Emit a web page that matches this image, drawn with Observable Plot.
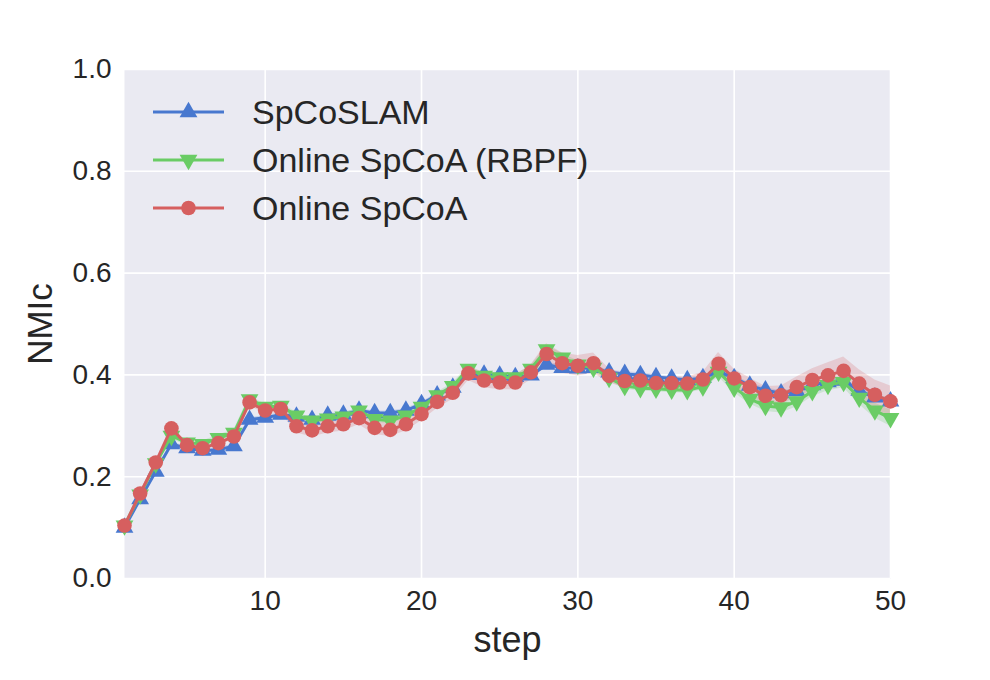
<!DOCTYPE html>
<html><head><meta charset="utf-8">
<script src="https://cdn.jsdelivr.net/npm/d3@7"></script>
<script src="https://cdn.jsdelivr.net/npm/@observablehq/plot@0.6"></script>
<style>
body{margin:0;background:#fff;}
#chart{position:relative;width:990px;height:680px;}
</style>
</head><body><div id="chart"></div>
<script>
const steps = [1,2,3,4,5,6,7,8,9,10,11,12,13,14,15,16,17,18,19,20,21,22,23,24,25,26,27,28,29,30,31,32,33,34,35,36,37,38,39,40,41,42,43,44,45,46,47,48,49,50];

const spcoslam = [0.100,0.156,0.210,0.264,0.256,0.251,0.253,0.260,0.312,0.316,0.322,0.318,0.312,0.320,0.322,0.330,0.325,0.325,0.330,0.343,0.360,0.375,0.400,0.401,0.399,0.396,0.399,0.420,0.414,0.413,0.414,0.405,0.402,0.400,0.396,0.393,0.390,0.394,0.407,0.394,0.379,0.370,0.364,0.368,0.380,0.386,0.389,0.369,0.356,0.348];
const spcoslamSpread = [0.004,0.004,0.004,0.004,0.004,0.004,0.004,0.004,0.004,0.004,0.004,0.004,0.004,0.004,0.004,0.004,0.004,0.004,0.004,0.004,0.004,0.004,0.004,0.004,0.004,0.004,0.004,0.005,0.005,0.005,0.005,0.004,0.004,0.004,0.004,0.004,0.004,0.004,0.005,0.005,0.005,0.005,0.005,0.005,0.005,0.005,0.005,0.006,0.006,0.006];

const rbpf = [0.104,0.165,0.226,0.280,0.267,0.264,0.276,0.286,0.352,0.337,0.339,0.320,0.310,0.314,0.318,0.330,0.313,0.310,0.320,0.337,0.360,0.378,0.412,0.398,0.395,0.395,0.412,0.450,0.434,0.420,0.414,0.394,0.378,0.374,0.373,0.371,0.370,0.377,0.406,0.375,0.353,0.339,0.336,0.348,0.368,0.380,0.386,0.355,0.330,0.315];
const rbpfSpread = [0.005,0.005,0.005,0.006,0.006,0.006,0.006,0.006,0.006,0.006,0.006,0.006,0.006,0.006,0.006,0.006,0.006,0.006,0.006,0.006,0.006,0.006,0.006,0.006,0.006,0.006,0.006,0.008,0.008,0.008,0.008,0.006,0.006,0.006,0.006,0.006,0.006,0.006,0.010,0.010,0.010,0.011,0.011,0.011,0.011,0.011,0.011,0.013,0.015,0.016];

const onlineSpCoA = [0.104,0.167,0.228,0.295,0.262,0.256,0.266,0.279,0.346,0.330,0.333,0.299,0.291,0.299,0.303,0.315,0.296,0.292,0.303,0.323,0.347,0.365,0.403,0.389,0.385,0.385,0.405,0.441,0.423,0.418,0.423,0.398,0.388,0.389,0.384,0.384,0.383,0.391,0.422,0.393,0.376,0.359,0.360,0.376,0.390,0.399,0.408,0.383,0.361,0.348];
const onlineSpread = [0.004,0.004,0.004,0.005,0.005,0.005,0.005,0.005,0.007,0.007,0.007,0.013,0.013,0.013,0.013,0.013,0.013,0.013,0.013,0.013,0.013,0.013,0.014,0.014,0.014,0.014,0.015,0.020,0.020,0.020,0.020,0.014,0.013,0.013,0.013,0.013,0.013,0.014,0.022,0.018,0.018,0.018,0.018,0.020,0.022,0.025,0.027,0.027,0.029,0.030];

const seriesNames = ["SpCoSLAM", "Online SpCoA (RBPF)", "Online SpCoA"];
const seriesColors = ["#4878CF", "#6ACC65", "#D65F5F"];
const seriesSymbols = ["triangle", "triangle", "circle"];
const seriesRotate = [0, 180, 0];
const xTicks = [10, 20, 30, 40, 50];
const yTicks = [0.0, 0.2, 0.4, 0.6, 0.8, 1.0];
const xLabel = "step";
const yLabel = "NMIc";

const seriesValues = [spcoslam, rbpf, onlineSpCoA];
const seriesSpreads = [spcoslamSpread, rbpfSpread, onlineSpread];

const FONT = "'Liberation Sans', Arial, Helvetica, sans-serif";
const R_CIRCLE = 7.3, R_TRI = 6.6;

const tables = seriesNames.map((name, k) => steps.map((s, i) => ({
  step: s,
  value: seriesValues[k][i],
  lo: seriesValues[k][i] - seriesSpreads[k][i],
  hi: seriesValues[k][i] + seriesSpreads[k][i],
  series: name
})));

const marks = [
  Plot.frame({fill: "#EAEAF2", stroke: "none"}),
  Plot.gridX(xTicks, {stroke: "white", strokeOpacity: 1, strokeWidth: 1.6}),
  Plot.gridY(yTicks, {stroke: "white", strokeOpacity: 1, strokeWidth: 1.6})
];
tables.forEach((t, k) => {
  marks.push(Plot.areaY(t, {x: "step", y1: "lo", y2: "hi", fill: seriesColors[k], fillOpacity: 0.22, curve: "linear"}));
});
tables.forEach((t, k) => {
  marks.push(Plot.lineY(t, {x: "step", y: "value", stroke: seriesColors[k], strokeWidth: 3}));
  marks.push(Plot.dot(t, {
    x: "step", y: "value",
    symbol: () => seriesSymbols[k],
    rotate: seriesRotate[k],
    r: seriesSymbols[k] === "circle" ? R_CIRCLE : R_TRI,
    fill: seriesColors[k], stroke: "none"
  }));
});
marks.push(
  Plot.axisX({ticks: xTicks, tickSize: 0, tickPadding: 12, label: null, fontSize: 28}),
  Plot.axisY({ticks: yTicks, tickSize: 0, tickPadding: 13, label: null, fontSize: 28, tickFormat: d3.format(".1f")}),
  Plot.text([xLabel], {frameAnchor: "bottom", dy: 62, text: d => d, fontSize: 36, textAnchor: "middle", lineAnchor: "middle"}),
  Plot.text([yLabel], {frameAnchor: "left", dx: -84, rotate: -90, text: d => d, fontSize: 35, textAnchor: "middle", lineAnchor: "middle"})
);

const chart = Plot.plot({
  width: 990,
  height: 680,
  marginLeft: 124,
  marginRight: 100,
  marginTop: 69,
  marginBottom: 102,
  x: {domain: [1, 50]},
  y: {domain: [0, 1]},
  style: {fontFamily: FONT, color: "#262626", background: "white", fontSize: "28px"},
  marks
});

// legend (upper left, inside axes)
const svg = d3.select(chart);
const lg = svg.append("g").attr("font-family", FONT).attr("text-anchor", "start");
const rowY = [112, 160, 208];
seriesNames.forEach((name, k) => {
  const g = lg.append("g").attr("transform", `translate(153,${rowY[k]})`);
  g.append("line").attr("x1", 0).attr("x2", 71).attr("y1", 0).attr("y2", 0)
    .attr("stroke", seriesColors[k]).attr("stroke-width", 3);
  const sym = seriesSymbols[k] === "circle" ? d3.symbolCircle : d3.symbolTriangle;
  const r = seriesSymbols[k] === "circle" ? R_CIRCLE : R_TRI;
  g.append("path").attr("d", d3.symbol(sym, Math.PI * r * r)())
    .attr("transform", `translate(35.5,0) rotate(${seriesRotate[k]})`)
    .attr("fill", seriesColors[k]);
  g.append("text").attr("x", 99).attr("y", 0).attr("dy", "0.35em")
    .attr("text-anchor", "start")
    .attr("font-size", 34).attr("fill", "#262626").text(name);
});

document.getElementById("chart").appendChild(chart);
</script>
</body></html>
